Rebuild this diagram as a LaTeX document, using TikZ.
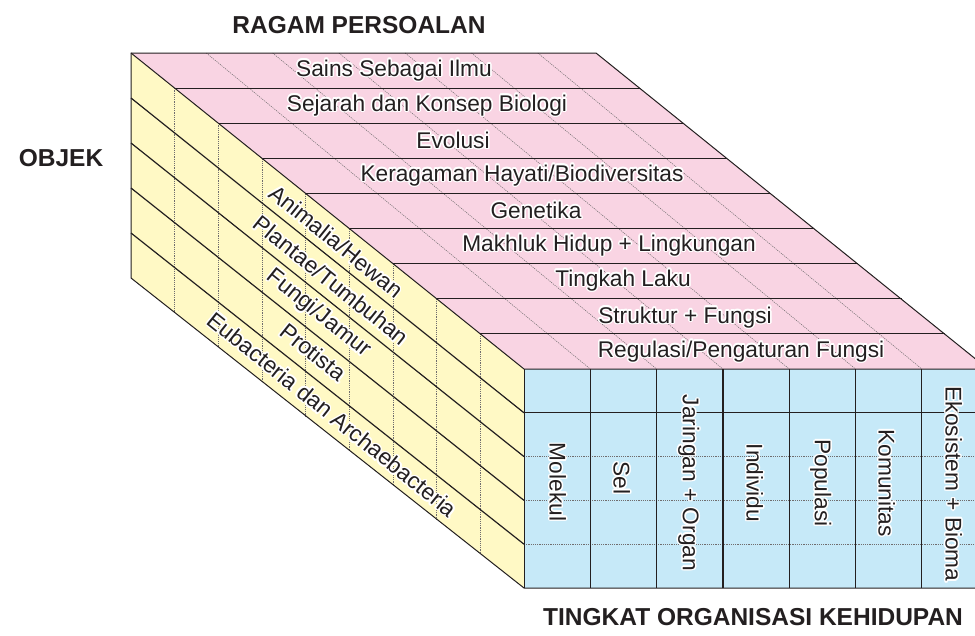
\documentclass[tikz,border=0pt]{standalone}
\usepackage{fontspec}
\setmainfont{Liberation Sans}
\usepackage{contour}
\contourlength{1.5pt}
\contournumber{12}

\definecolor{toppink}{HTML}{F9D4E3}
\definecolor{sideyellow}{HTML}{FFF9C5}
\definecolor{frontblue}{HTML}{C6E9F8}
\definecolor{ink}{HTML}{231F20}

\tikzset{
  lbl/.style={font=\fontsize{22.7}{24}\selectfont, text=ink, inner sep=0pt},
  heading/.style={font=\fontsize{24.5}{26}\selectfont\bfseries, text=ink, inner sep=0pt},
  boxedge/.style={draw=ink, line width=1pt},
  rowline/.style={draw=ink, line width=1.2pt},
  dotline/.style={draw=ink!65, line width=0.5pt, dash pattern=on 1.2pt off 1pt},
}

\begin{document}
\begin{tikzpicture}[x=1pt,y=-1pt]
        \useasboundingbox (0,0) rectangle (975,635);
        \clip (0,0) rectangle (975,635);

        % corners of the block
        \coordinate (btl) at (131,53);
        \coordinate (btr) at (596,53);
        \coordinate (ftl) at (524,369);
        \coordinate (ftr) at (988,369);
        \coordinate (bbl) at (131,278);
        \coordinate (fbl) at (524,588);
        \coordinate (fbr) at (988,588);

        % faces
        \fill[toppink] (btl) -- (btr) -- (ftr) -- (ftl) -- cycle;
        \fill[sideyellow] (btl) -- (ftl) -- (fbl) -- (bbl) -- cycle;
        \fill[frontblue] (ftl) -- (ftr) -- (fbr) -- (fbl) -- cycle;

        % top face
        \foreach \i in {1,...,6}
            \draw[dotline] ({140+66.3*\i},53) -- ({524+66.3*\i},369);
        \foreach \k in {1,...,8}
            \draw[rowline] ({131+43.67*\k},{53+35.11*\k}) -- ({596+43.67*\k},{53+35.11*\k});

        % left face
        \foreach \k in {1,...,8}
            \draw[dotline] ({131+43.67*\k},{53+35.11*\k}) -- ({131+43.67*\k},{278+34.44*\k});
        \foreach \k in {1,...,4}
            \draw[rowline] (131,{53+45*\k}) -- (524,{369+43.8*\k});

        % front face
        \draw[rowline] (524,412.8) -- (988,412.8);
        \foreach \k in {2,3,4}
            \draw[dotline] (524,{369+43.8*\k}) -- (988,{369+43.8*\k});
        \foreach \i in {1,...,6}
            \draw[rowline] ({524+66.3*\i},369) -- ({524+66.3*\i},588);

        % outline
        \draw[boxedge] (btl) -- (btr) -- (ftr) -- (fbr) -- (fbl) -- (bbl) -- cycle;
        \draw[boxedge] (btl) -- (ftl) -- (ftr);
        \draw[boxedge] (ftl) -- (fbl);

        % headings
        \node[heading] (ragam) at (359,25) {RAGAM PERSOALAN};
        \node[heading] (objek) at (61,158) {OBJEK};
        \node[heading, anchor=west] (tingkat) at (543,617) {TINGKAT ORGANISASI KEHIDUPAN};

        % top face labels
        \node[lbl] (sains) at (394,71) {\contour{white}{Sains Sebagai Ilmu}};
        \node[lbl] (sejarah) at (427,106) {\contour{white}{Sejarah dan Konsep Biologi}};
        \node[lbl] (evolusi) at (453,141) {\contour{white}{Evolusi}};
        \node[lbl] (keragaman) at (522,176) {\contour{white}{Keragaman Hayati/Biodiversitas}};
        \node[lbl] (genetika) at (536,211) {\contour{white}{Genetika}};
        \node[lbl] (makhluk) at (609,246) {\contour{white}{Makhluk Hidup + Lingkungan}};
        \node[lbl] (tingkah) at (623,281) {\contour{white}{Tingkah Laku}};
        \node[lbl] (struktur) at (685,318) {\contour{white}{Struktur + Fungsi}};
        \node[lbl] (regulasi) at (741,352) {\contour{white}{Regulasi/Pengaturan Fungsi}};

        % left face labels
        \node[lbl, rotate=-38.8] (animalia) at (336,242) {\contour{white}{Animalia/Hewan}};
        \node[lbl, rotate=-38.8] (plantae) at (331,281) {\contour{white}{Plantae/Tumbuhan}};
        \node[lbl, rotate=-38.8] (fungi) at (318,314) {\contour{white}{Fungi/Jamur}};
        \node[lbl, rotate=-38.8] (protista) at (313,353) {\contour{white}{Protista}};
        \node[lbl, rotate=-38.8] (eubacteria) at (332,415) {\contour{white}{Eubacteria dan Archaebacteria}};

        % front face labels
        \node[lbl, rotate=-90] (molekul) at (557,482) {\contour{white}{Molekul}};
        \node[lbl, rotate=-90] (sel) at (621,478) {\contour{white}{Sel}};
        \node[lbl, rotate=-90] (jaringan) at (688,483) {\contour{white}{Jaringan + Organ}};
        \node[lbl, rotate=-90] (individu) at (754,483) {\contour{white}{Individu}};
        \node[lbl, rotate=-90] (populasi) at (820,483) {\contour{white}{Populasi}};
        \node[lbl, rotate=-90] (komunitas) at (886,483) {\contour{white}{Komunitas}};
        \node[lbl, rotate=-90] (ekosistem) at (953,484) {\contour{white}{Ekosistem + Bioma}};
    \end{tikzpicture}
\end{document}
